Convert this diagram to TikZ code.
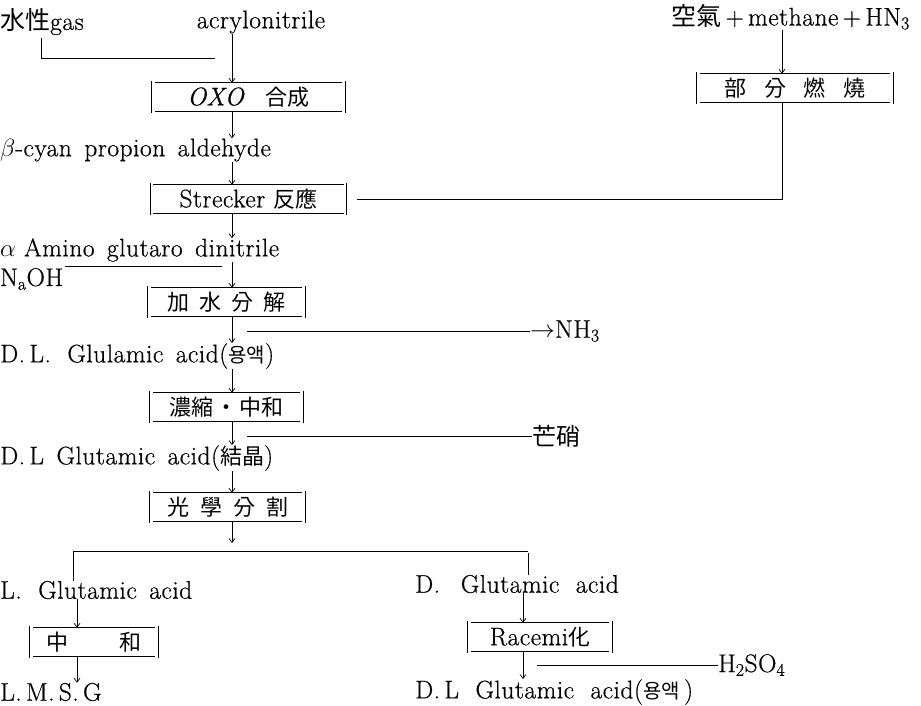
\documentclass[tikz,border=0pt]{standalone}
\usepackage{fontspec}
\setmainfont{Latin Modern Roman}[LetterSpace=2,FakeBold=0.5]
\newfontfamily\cjk{Noto Sans CJK KR}
\usetikzlibrary{arrows.meta,calc}
\newcommand\bx{\cjk\fontsize{22}{26}\selectfont}
\begin{document}
\begin{tikzpicture}[x=1pt,y=-1pt,
  every node/.style={inner sep=0pt, font=\fontsize{25.5}{29}\selectfont},
  lbl/.style={anchor=west},
  procbox/.style={minimum width=#1, minimum height=28pt},
  arr/.style={line width=0.7pt, -{Straight Barb[length=4pt,width=6pt]}},
  ln/.style={line width=0.7pt},
  boxline/.style={line width=0.8pt}
]
\useasboundingbox (0,0) rectangle (921,705);
% spines
\coordinate (sp) at (232,0);
\coordinate (spL) at (77,0);
\coordinate (spR) at (523,0);
\coordinate (spB) at (782,0);
\coordinate (sgx) at (41,0);
% texts
\node[lbl] (suisei) at (0,22) {{\cjk\fontsize{25}{30}\selectfont 水性}gas};
\node (acryl) at (261,22) {acrylonitrile};
\node[anchor=east] (kuuki) at (910,17) {{\cjk\fontsize{25}{30}\selectfont 空氣}\,+\,methane\,+\,HN\textsubscript{3}};
\node[procbox=193] (oxo) at (248.5,97) {\textit{OXO}\enspace\ {\bx 合成}};
\node[lbl] (beta) at (0,150) {$\beta$-cyan\ \,propion\ \,aldehyde};
\node[procbox=196] (strk) at (248.5,199) {Strecker\ {\bx 反應}};
\node[procbox=196] (bubun) at (795,88) {\bx 部\hspace{0.8em}分\hspace{0.8em}燃\hspace{0.8em}燒};
\node[lbl] (alpha) at (0,250) {$\alpha$\ Amino\ \,glutaro\ \,dinitrile};
\node[lbl] (naoh) at (0,279) {N\textsubscript{a}OH};
\node[procbox=157] (kasui) at (226.5,302) {\bx 加\hspace{0.45em}水\hspace{0.45em}分\hspace{0.45em}解};
\node[lbl] (nh3) at (530,331) {$\rightarrow$NH\textsubscript{3}};
\node[lbl] (dl1) at (0,356) {D.\,L.\ \ Glulamic\ \,acid({\cjk\fontsize{20}{24}\selectfont 용액})};
\node[procbox=153] (noshuku) at (226.5,407) {\bx 濃縮\hspace{0.1em}・\hspace{0.1em}中和};
\node[lbl] (boshu) at (532,436) {\cjk\fontsize{24}{28}\selectfont 芒硝};
\node[lbl] (dl2) at (0,458) {D.\,L\ \,Glutamic\ \,acid({\cjk\fontsize{22}{24}\selectfont 結晶})};
\node[procbox=155] (kogaku) at (227.5,507) {\bx 光\hspace{0.5em}學\hspace{0.5em}分\hspace{0.5em}割};
\node[lbl] (lglu) at (0,590) {L.\ \ Glutamic\ \,acid};
\node[lbl] (dglu) at (415,584) {D.\ \ \,Glutamic\ \ acid};
\node[procbox=128] (chuwa) at (94,642) {\bx 中\hspace{2.3em}和};
\node[lbl] (lmsg) at (0,692) {L.\,M.\,S.\,G};
\node[procbox=144] (racemi) at (540,637) {Racemi{\bx 化}};
\node[lbl] (h2so4) at (718,665) {H\textsubscript{2}SO\textsubscript{4}};
\node[lbl] (dl3) at (415,692) {D.\,L\ \ Glutamic\ \ acid({\cjk\fontsize{20}{24}\selectfont 용액}\,)};
% bracket boxes
\foreach \b in {oxo,strk,bubun,kasui,noshuku,kogaku,chuwa,racemi}{
  \draw[boxline] ([xshift=3pt]\b.north west) -- ([xshift=-3pt]\b.north east)
    ([xshift=3pt]\b.south west) -- ([xshift=-3pt]\b.south east)
    ([yshift=2pt]\b.north west) -- ([yshift=-2pt]\b.south west)
    ([yshift=2pt]\b.north east) -- ([yshift=-2pt]\b.south east);
}
% free-end coordinates
\coordinate (j1) at (215,58);
\coordinate (j2) at (222,266);
\coordinate (nhs) at (247,331);
\coordinate (bos) at (247,436);
\coordinate (split) at (232,543);
\coordinate (hL) at (73,551);
\coordinate (hR) at (528,551);
\coordinate (hs) at (537,665);
% connectors
\draw[ln] ([yshift=-3pt]suisei.south -| sgx) |- (j1);
\draw[arr] (acryl.south -| sp) -- (oxo.north -| sp);
\draw[arr] (oxo.south -| sp) -- (beta.north -| sp);
\draw[arr] (beta.south -| sp) -- (strk.north -| sp);
\draw[arr] (strk.south -| sp) -- (alpha.north -| sp);
\draw[arr] (alpha.south -| sp) -- (kasui.north -| sp);
\draw[ln] ([xshift=2pt]naoh.north east |- j2) -- (j2);
\draw[arr] (kasui.south -| sp) -- (dl1.north -| sp);
\draw[ln] (nhs) -- (nh3.west);
\draw[arr] (dl1.south -| sp) -- (noshuku.north -| sp);
\draw[arr] (noshuku.south -| sp) -- (dl2.north -| sp);
\draw[ln] (bos) -- (boshu.west);
\draw[arr] (dl2.south -| sp) -- (kogaku.north -| sp);
\draw[arr] (kogaku.south -| sp) -- (split);
\draw[ln] (hL |- lglu.north) -- (hL) -- (hR);
\draw[ln] ([yshift=-2pt]hR) -- (hR |- dglu.north);
\draw[arr] (lglu.south -| spL) -- (chuwa.north -| spL);
\draw[arr] (chuwa.south -| spL) -- (lmsg.north -| spL);
\draw[arr] (dglu.south -| spR) -- (racemi.north -| spR);
\draw[arr] (racemi.south -| spR) -- (dl3.north -| spR);
\draw[ln] (hs) -- (h2so4.west);
\draw[ln] ([xshift=10pt]strk.east) -| (bubun.south -| spB);
\draw[arr] (kuuki.south -| spB) -- (bubun.north -| spB);
\end{tikzpicture}
\end{document}
